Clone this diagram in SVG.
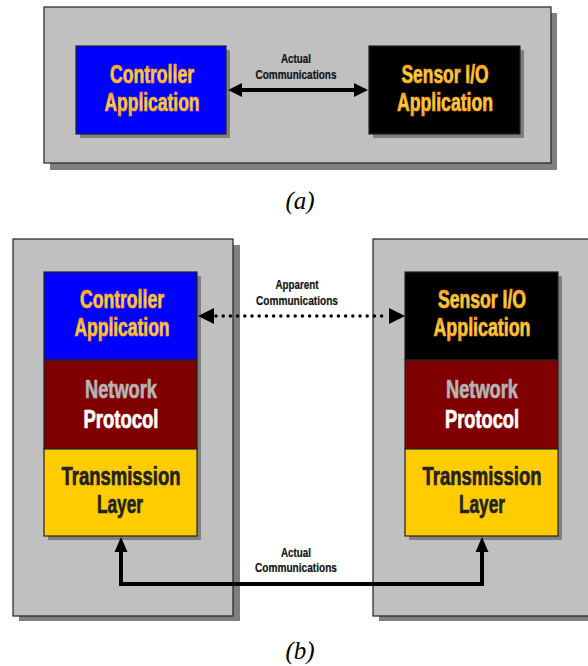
<svg xmlns="http://www.w3.org/2000/svg" width="588" height="666" viewBox="0 0 588 666">
  <defs>
    <linearGradient id="gold" x1="0" y1="0" x2="0" y2="1">
      <stop offset="0" stop-color="#ff8a1c"/>
      <stop offset="0.55" stop-color="#ffcf3a"/>
      <stop offset="1" stop-color="#ff9a22"/>
    </linearGradient>
    <style>
      .panel { fill: #c0c0c0; stroke: #222; stroke-width: 1.2; }
      .shadow { fill: #808080; }
      .box { stroke: #222; stroke-width: 1.2; }
      .big { font-family: "Liberation Sans", "DejaVu Sans", sans-serif; font-weight: bold; font-size: 25px; text-anchor: middle; stroke-width: 0.7; stroke-linejoin: round; }
      .gold { fill: url(#gold); stroke: url(#gold); }
      .grey { fill: #b4b4b4; stroke: #b4b4b4; }
      .white { fill: #fff; stroke: #fff; }
      .ink { fill: #222; stroke: #222; }
      .small { font-family: "Liberation Sans", "DejaVu Sans", sans-serif; font-weight: bold; font-size: 13px; text-anchor: middle; fill: #111; stroke: #111; stroke-width: 0.2; }
      .cap { font-family: "Liberation Serif", "Times New Roman", serif; font-style: italic; font-size: 25px; text-anchor: middle; fill: #000; }
      .wire { fill: none; stroke: #000; stroke-width: 4; }
      .head { fill: #000; }
    </style>
  </defs>

  <rect width="588" height="666" fill="#fff"/>

  <!-- (a) panel -->
  <g id="panel-a">
    <rect class="shadow" x="50" y="13" width="507" height="157"/>
    <rect class="panel" x="44" y="7" width="507" height="156"/>
  </g>

  <g id="a-controller">
    <rect class="shadow" x="80" y="50" width="150" height="88"/>
    <rect class="box" x="76" y="46" width="150" height="88" fill="#0000ff"/>
    <text class="big gold" x="152" y="83" textLength="84" lengthAdjust="spacingAndGlyphs">Controller</text>
    <text class="big gold" x="152" y="111" textLength="95" lengthAdjust="spacingAndGlyphs">Application</text>
  </g>

  <g id="a-sensor">
    <rect class="shadow" x="373" y="50" width="151" height="88"/>
    <rect class="box" x="369" y="46" width="151" height="88" fill="#000"/>
    <text class="big gold" x="445" y="83" textLength="87" lengthAdjust="spacingAndGlyphs">Sensor I/O</text>
    <text class="big gold" x="445" y="111" textLength="96" lengthAdjust="spacingAndGlyphs">Application</text>
  </g>

  <g id="a-connectors">
    <line class="wire" x1="240" y1="90" x2="356" y2="90"/>
    <path class="head" d="M228,90 L242,83 L242,97 Z"/>
    <path class="head" d="M368,90 L354,83 L354,97 Z"/>
    <text class="small" x="296" y="63" textLength="30" lengthAdjust="spacingAndGlyphs">Actual</text>
    <text class="small" x="296" y="79" textLength="81" lengthAdjust="spacingAndGlyphs">Communications</text>
  </g>

  <text class="cap" x="300" y="209">(a)</text>

  <!-- (b) panels -->
  <g id="panel-b-left">
    <rect class="shadow" x="19" y="245" width="221" height="376"/>
    <rect class="panel" x="13" y="239" width="220" height="377"/>
  </g>
  <g id="panel-b-right">
    <rect class="shadow" x="379" y="245" width="215" height="376"/>
    <rect class="panel" x="373" y="239" width="220" height="377"/>
  </g>

  <g id="b-left-stack">
    <rect class="shadow" x="48" y="276" width="153" height="264"/>
    <rect class="box" x="44" y="272" width="153" height="88" fill="#0000ff"/>
    <rect class="box" x="44" y="360" width="153" height="89" fill="#800000"/>
    <rect class="box" x="44" y="449" width="153" height="87" fill="#ffcc00"/>
    <text class="big gold" x="122" y="308" textLength="84" lengthAdjust="spacingAndGlyphs">Controller</text>
    <text class="big gold" x="122" y="336" textLength="95" lengthAdjust="spacingAndGlyphs">Application</text>
    <text class="big grey" x="121" y="398" textLength="72" lengthAdjust="spacingAndGlyphs">Network</text>
    <text class="big white" x="121" y="428" textLength="75" lengthAdjust="spacingAndGlyphs">Protocol</text>
    <text class="big ink" x="121" y="485" textLength="119" lengthAdjust="spacingAndGlyphs">Transmission</text>
    <text class="big ink" x="120" y="513" textLength="46" lengthAdjust="spacingAndGlyphs">Layer</text>
  </g>

  <g id="b-right-stack">
    <rect class="shadow" x="409" y="276" width="153" height="264"/>
    <rect class="box" x="405" y="272" width="153" height="88" fill="#000"/>
    <rect class="box" x="405" y="360" width="153" height="89" fill="#800000"/>
    <rect class="box" x="405" y="449" width="153" height="87" fill="#ffcc00"/>
    <text class="big gold" x="482" y="308" textLength="88" lengthAdjust="spacingAndGlyphs">Sensor I/O</text>
    <text class="big gold" x="482" y="336" textLength="97" lengthAdjust="spacingAndGlyphs">Application</text>
    <text class="big grey" x="482" y="398" textLength="72" lengthAdjust="spacingAndGlyphs">Network</text>
    <text class="big white" x="482" y="428" textLength="74" lengthAdjust="spacingAndGlyphs">Protocol</text>
    <text class="big ink" x="482" y="485" textLength="119" lengthAdjust="spacingAndGlyphs">Transmission</text>
    <text class="big ink" x="482" y="513" textLength="46" lengthAdjust="spacingAndGlyphs">Layer</text>
  </g>

  <g id="b-connectors">
    <!-- apparent (dotted) link between application layers -->
    <line x1="216" y1="316" x2="388" y2="316" stroke="#000" stroke-width="3.5" stroke-linecap="round" stroke-dasharray="0 7.2"/>
    <path class="head" d="M198,316 L214,308 L214,324 Z"/>
    <path class="head" d="M405,316 L389,308 L389,324 Z"/>
    <text class="small" x="297" y="289" textLength="43" lengthAdjust="spacingAndGlyphs">Apparent</text>
    <text class="small" x="297" y="305" textLength="82" lengthAdjust="spacingAndGlyphs">Communications</text>

    <!-- actual link between transmission layers -->
    <path class="wire" d="M121,551 L121,584 L482,584 L482,551"/>
    <path class="head" d="M121,537 L114.5,552 L127.5,552 Z"/>
    <path class="head" d="M482,537 L475.5,552 L488.5,552 Z"/>
    <text class="small" x="296" y="557" textLength="30" lengthAdjust="spacingAndGlyphs">Actual</text>
    <text class="small" x="296" y="572" textLength="82" lengthAdjust="spacingAndGlyphs">Communications</text>
  </g>

  <text class="cap" x="300" y="659">(b)</text>
</svg>
